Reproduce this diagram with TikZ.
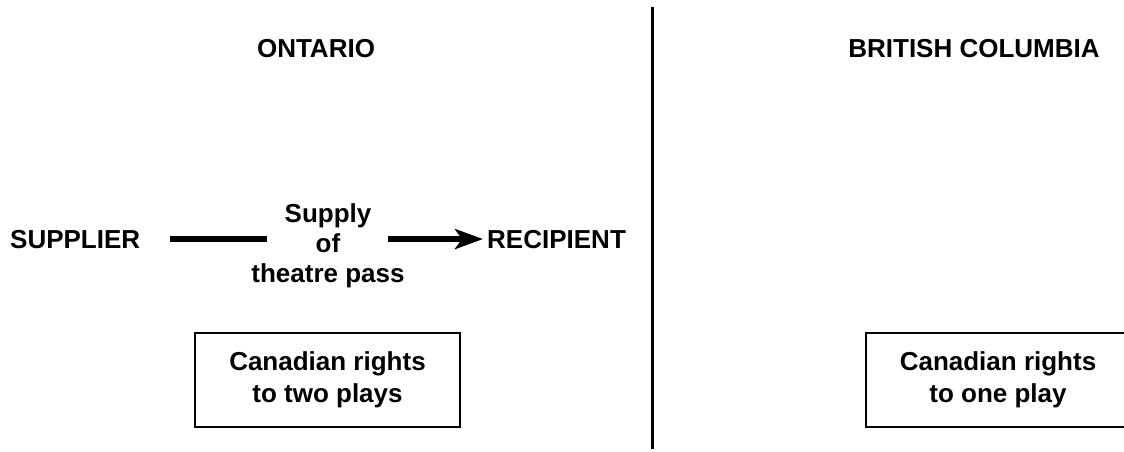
\documentclass[tikz,border=0pt]{standalone}
\usepackage{fontspec}
\setmainfont{Liberation Sans}
\usetikzlibrary{arrows.meta,calc}
\begin{document}
\begin{tikzpicture}[x=1pt,y=-1pt,
  every node/.style={font=\fontsize{26}{32}\selectfont\bfseries, inner sep=0pt},
  label/.style={anchor=base},
  bar/.style={line width=6pt},
  rightsbox/.style={draw, line width=2pt, minimum width=265pt, minimum height=94pt, align=center},
  divider/.style={line width=3pt}]
  \useasboundingbox (0,0) rectangle (1124,451);
  \clip (0,0) rectangle (1124,451);

  % province headings
  \node[label] (ontario) at (316,57) {ONTARIO};
  \node[label] (bc) at (974,57) {BRITISH COLUMBIA};

  % border between the provinces
  \coordinate (top) at (652,7);
  \coordinate (bottom) at (652,449);
  \draw[divider] (top) -- (bottom);

  % the supply
  \node[anchor=base west] (supplier) at (10,248) {SUPPLIER};
  \node[anchor=base west] (recipient) at (487,248) {RECIPIENT};
  \node[align=center, font=\fontsize{26}{30}\selectfont\bfseries] (pass) at (328,246) {Supply\\of\\theatre pass};

  \draw[bar, shorten <=30pt] (supplier.east) -- ($(pass.center |- supplier.east)+(-61,0)$);
  \draw[bar, shorten >=4pt, -{Stealth[length=28pt,width=20pt,inset=7pt]}]
    ($(pass.center |- supplier.east)+(60,0)$) -- (recipient.west);

  % rights held in each province
  \node[rightsbox] (rightsON) at (327.5,380) {Canadian rights\\to two plays};
  \node[rightsbox] (rightsBC) at (998,380) {Canadian rights\\to one play};
\end{tikzpicture}
\end{document}
